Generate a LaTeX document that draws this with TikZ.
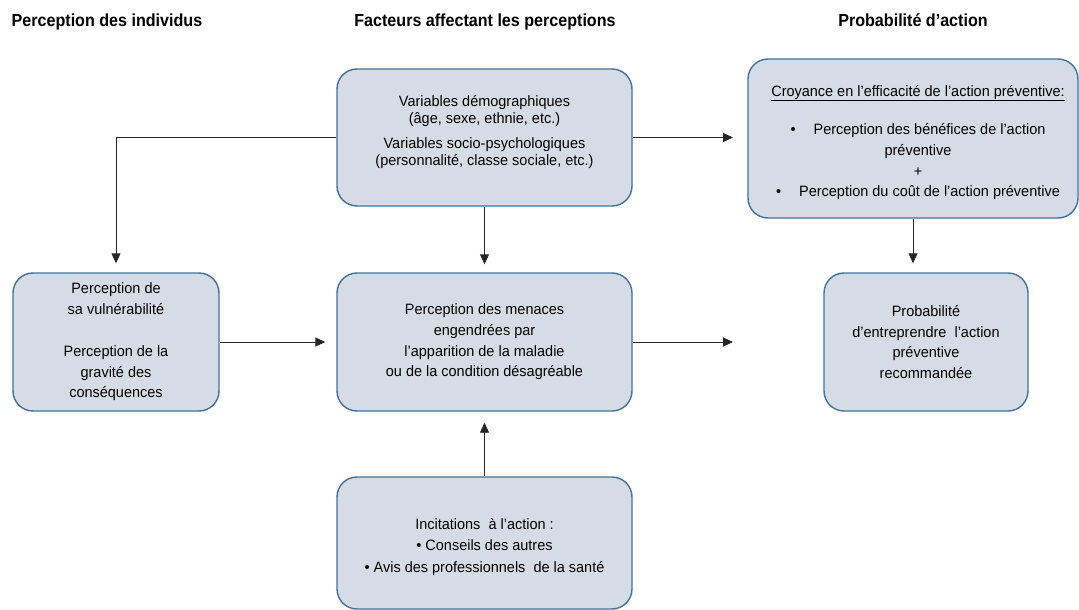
\documentclass[tikz,border=0pt]{standalone}
\usepackage{fontspec}
\setmainfont{Liberation Sans}[FakeStretch=0.965]
\newfontfamily\headfont{Liberation Sans}[FakeStretch=0.92]
\usetikzlibrary{arrows.meta}
\definecolor{boxfill}{HTML}{D6DCE5}
\definecolor{boxline}{HTML}{41719C}
\definecolor{arrline}{HTML}{262626}
\begin{document}
\begin{tikzpicture}[x=1pt,y=-1pt,
  box/.style={draw=boxline,line width=1.4pt,fill=boxfill,rounded corners=20pt,
    align=center,inner sep=0pt,font=\fontsize{15}{20.7}\selectfont},
  boxtext/.style={align=center,inner sep=0pt,font=\fontsize{15}{20.7}\selectfont},
  arr/.style={draw=arrline,line width=0.9pt,-{Triangle[length=10pt,width=9pt]}},
  heading/.style={font=\headfont\fontsize{17.5}{19}\selectfont\bfseries,anchor=base,inner sep=0pt}]
\useasboundingbox (0,0) rectangle (1079,610);

% headings
\node[heading,anchor=base west] (h1) at (11.5,27) {Perception des individus};
\node[heading] (h2) at (485,27) {Facteurs affectant les perceptions};
\node[heading] (h3) at (913,27) {Probabilité d’action};

% boxes
\node[box,minimum width=295pt,minimum height=137pt] (T) at (484.5,137.5) {};
\node[boxtext,font=\fontsize{15}{16.5}\selectfont] (Tt) at (484.5,132)
  {Variables démographiques\\(âge, sexe, ethnie, etc.)\\[9pt]
   Variables socio-psychologiques\\(personnalité, classe sociale, etc.)};

\node[box,minimum width=330pt,minimum height=159pt] (R) at (913,138.5) {};
\node[boxtext] (Rt) at (918,142.5)
  {\underline{Croyance en l’efficacité de l’action préventive:}\\[18pt]
   •\hspace{1.2em}Perception des bénéfices de l’action\\
   préventive\\+\\
   •\hspace{1.2em}Perception du coût de l’action préventive};

\node[box,minimum width=206pt,minimum height=138pt] (L) at (116,342)
  {Perception de\\sa vulnérabilité\\[21pt]
   Perception de la\\gravité des\\conséquences};

\node[box,minimum width=295pt,minimum height=138pt] (M) at (484.5,342)
  {Perception des menaces\\engendrées par\\l’apparition de la maladie\\
   ou de la condition désagréable};

\node[box,minimum width=204pt,minimum height=138pt] (P) at (926,342)
  {Probabilité\\d’entreprendre\ \ l’action\\préventive\\recommandée};

\node[box,minimum width=295pt,minimum height=132pt] (B) at (484.5,543) {};
\node[boxtext,font=\fontsize{15}{21.5}\selectfont] (Bt) at (484.5,547)
  {Incitations\ \ à l’action :\\• Conseils des autres\\
   • Avis des professionnels\ \ de la santé};

% connectors
\coordinate (tEnd) at (733,137.5);
\coordinate (mEnd) at (733,342);
\draw[arr,shorten >=9pt] (T.west) -| (L.north);
\draw[arr] (T.east) -- (tEnd);
\draw[arr,shorten >=8pt] (T.south) -- (M.north);
\draw[arr,shorten >=9pt] (R.south) -- (R.south |- P.north);
\draw[arr,shorten >=11pt] (L.east) -- (M.west);
\draw[arr] (M.east) -- (mEnd);
\draw[arr,shorten >=11pt] (B.north) -- (M.south);
\end{tikzpicture}
\end{document}
